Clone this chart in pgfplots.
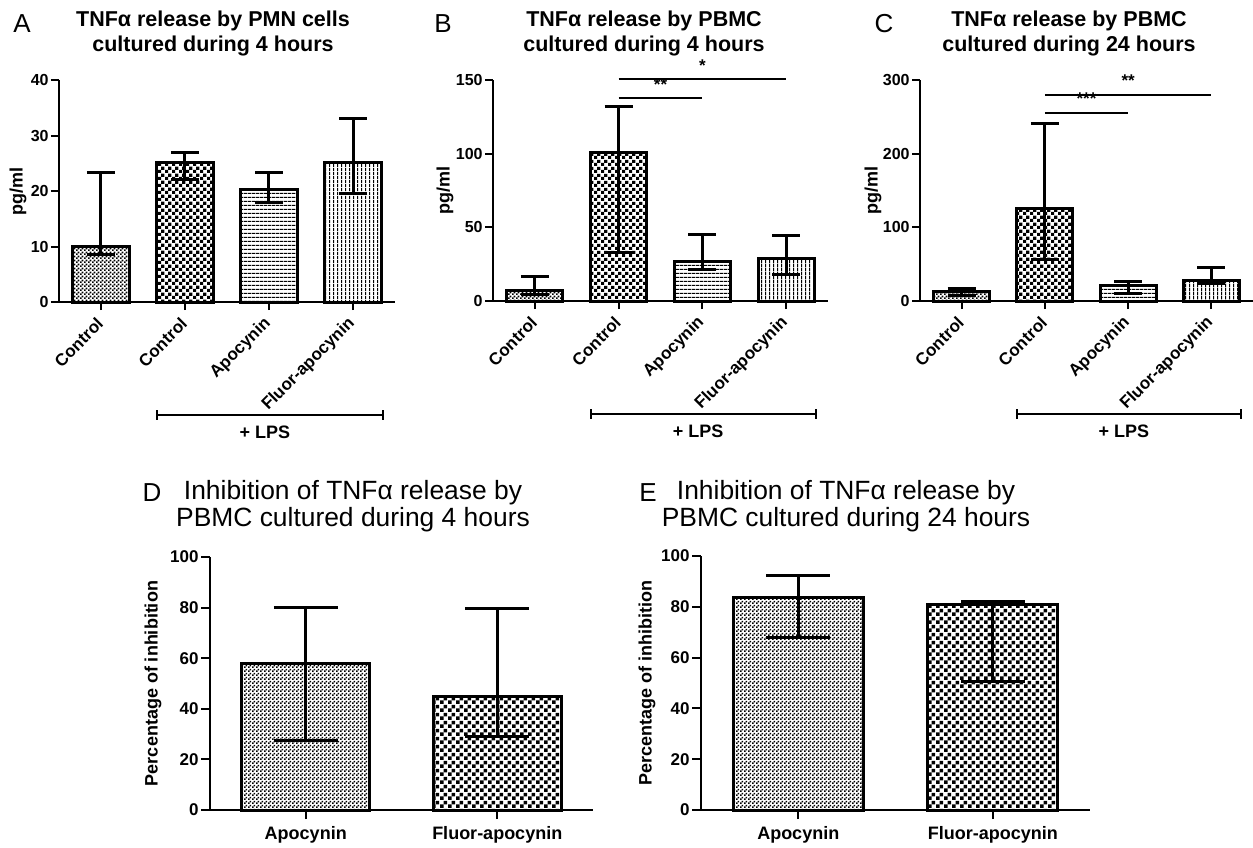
\documentclass[border=0pt]{standalone}
\usepackage{fontspec}
\setmainfont{Liberation Sans}
\usepackage{pgfplots}
\pgfplotsset{compat=1.18}
\usetikzlibrary{patterns.meta}

% bar fills
\tikzdeclarepattern{name=chkfine,type=uncolored,
  bounding box={(0pt,0pt) and (2pt,2pt)},tile size={(2pt,2pt)},
  code={\fill (0pt,0pt) rectangle (1pt,1pt); \fill (1pt,1pt) rectangle (2pt,2pt);}}
\tikzdeclarepattern{name=chkmid,type=uncolored,
  bounding box={(0pt,0pt) and (3.3pt,3.3pt)},tile size={(3.3pt,3.3pt)},
  code={\fill (0pt,0pt) rectangle (1.65pt,1.65pt); \fill (1.65pt,1.65pt) rectangle (3.3pt,3.3pt);}}
\tikzdeclarepattern{name=chkbig,type=uncolored,
  bounding box={(0pt,0pt) and (4pt,4pt)},tile size={(4pt,4pt)},
  code={\fill (0pt,0pt) rectangle (2pt,2pt); \fill (2pt,2pt) rectangle (4pt,4pt);}}
\tikzdeclarepattern{name=hlines,type=uncolored,
  bounding box={(0pt,0pt) and (2pt,2pt)},tile size={(2pt,2pt)},
  code={\fill (0pt,0.7pt) rectangle (2pt,1.3pt);}}
\tikzdeclarepattern{name=vlines,type=uncolored,
  bounding box={(0pt,0pt) and (2pt,2pt)},tile size={(2pt,2pt)},
  code={\fill (0.7pt,0pt) rectangle (1.3pt,2pt);}}

\pgfplotsset{
  panel/.style={
    scale only axis, anchor=south west,
    axis lines=left, axis line style={-, line width=1pt},
    enlargelimits=false, clip=false, ymin=0,
    tick align=outside, major tick length=4pt,
    major tick style={line width=1pt, black},
    yticklabel style={inner sep=1pt},
    /pgf/number format/assume math mode=true,
    ylabel style={font=\bfseries\fontsize{9}{10}\selectfont, anchor=center},
    ybar, bar shift=0pt,
    every axis plot/.append style={draw=black, line width=1.5pt, pattern color=black},
    error bars/y dir=both, error bars/y explicit,
    error bars/error bar style={line width=1.5pt, black},
  },
  top/.style={
    panel, xmin=-0.5, xmax=3.5, bar width=0.67, xtick={0,1,2,3},
    xticklabels={Control,Control,Apocynin,Fluor-apocynin},
    yticklabel style={font=\bfseries\fontsize{8}{9}\selectfont},
    xticklabel style={yshift=-3pt, xshift=2pt, rotate=45, anchor=east,
      font=\bfseries\fontsize{8.5}{9}\selectfont},
    ylabel={pg/ml},
    error bars/error mark options={rotate=90, line width=1.5pt, black, mark size=7pt},
  },
  bottom/.style={
    panel, xmin=-0.5, xmax=1.5, bar width=0.67, xtick={0,1},
    xticklabels={Apocynin,Fluor-apocynin},
    yticklabel style={font=\bfseries\fontsize{8.5}{9}\selectfont},
    xticklabel style={font=\bfseries\fontsize{9}{10}\selectfont},
    major tick length=4.5pt,
    ymax=100, ytick={0,20,...,100},
    ylabel={Percentage of inhibition},
    error bars/error mark options={rotate=90, line width=1.5pt, black, mark size=16pt},
  },
}

% "+ LPS" bracket under the last three bars
\newcommand\lps{%
  \draw[line width=1pt] ([yshift=-56.5pt]axis cs:0.67,0) -- ([yshift=-56.5pt]axis cs:3.36,0);
  \draw[line width=1pt] ([yshift=-54pt]axis cs:0.67,0) -- ([yshift=-59pt]axis cs:0.67,0);
  \draw[line width=1pt] ([yshift=-54pt]axis cs:3.36,0) -- ([yshift=-59pt]axis cs:3.36,0);
  \node[font=\bfseries\fontsize{9}{10}\selectfont] at ([yshift=-65pt]axis cs:1.95,0) {+ LPS};
}
\newcommand\sig[4]{% x from, x to, height, stars
  \draw[line width=1pt] (axis cs:#1,#3) -- (axis cs:#2,#3)
    node[midway, above=0.3pt, font=\bfseries\fontsize{8.5}{8.5}\selectfont] {#4};
}

\begin{document}
\begin{tikzpicture}
\useasboundingbox (0pt,0pt) rectangle (626.5pt,-423.5pt);

% panel titles
\tikzset{ttl/.style={font=\bfseries\fontsize{10.75}{12.5}\selectfont, align=center},
         ttlb/.style={font=\fontsize{13.2}{13.5}\selectfont, align=center},
         ltr/.style={font=\fontsize{13}{13}\selectfont}}
\node[ltr] at (11pt,-12pt) {A};
\node[ttl] at (106.5pt,-16.5pt) {TNFα release by PMN cells\\cultured during 4 hours};
\node[ltr] at (221.5pt,-12pt) {B};
\node[ttl] at (322pt,-16.5pt) {TNFα release by PBMC\\cultured during 4 hours};
\node[ltr] at (442pt,-12pt) {C};
\node[ttl] at (534.5pt,-16.5pt) {TNFα release by PBMC\\cultured during 24 hours};
\node[ltr] at (76pt,-246.5pt) {D};
\node[ttlb] at (176.5pt,-253pt) {Inhibition of TNFα release by\\PBMC cultured during 4 hours};
\node[ltr] at (324pt,-246.5pt) {E};
\node[ttlb] at (423pt,-253pt) {Inhibition of TNFα release by\\PBMC cultured during 24 hours};

% A
\begin{axis}[top, at={(29.5pt,-151pt)}, width=168pt, height=111pt,
  ymax=40, ytick={0,10,...,40},
  ylabel style={at={(axis description cs:-0.122,0.5)}}]
\addplot[pattern=chkfine] coordinates {(0,10) += (0,13.3) -= (0,1.5)};
\addplot[pattern=chkmid] coordinates {(1,25.1) += (0,1.9) -= (0,3.0)};
\addplot[pattern=hlines] coordinates {(2,20.3) += (0,3.0) -= (0,2.3)};
\addplot[pattern=vlines] coordinates {(3,25.1) += (0,7.9) -= (0,5.5)};
\lps
\end{axis}

% B
\begin{axis}[top, at={(246.5pt,-150.5pt)}, width=167.5pt, height=110.5pt,
  ymax=150, ytick={0,50,100,150},
  ylabel style={at={(axis description cs:-0.143,0.5)}}]
\addplot[pattern=chkfine] coordinates {(0,7.2) += (0,9.1) -= (0,3.0)};
\addplot[pattern=chkmid] coordinates {(1,101) += (0,31) -= (0,68)};
\addplot[pattern=hlines] coordinates {(2,26.7) += (0,18.3) -= (0,5.2)};
\addplot[pattern=vlines] coordinates {(3,29) += (0,15.6) -= (0,10.7)};
\sig{1}{2}{137.5}{**}
\sig{1}{3}{150.4}{*}
\lps
\end{axis}

% C
\begin{axis}[top, at={(460pt,-150.5pt)}, width=166.5pt, height=110.5pt,
  ymax=300, ytick={0,100,200,300},
  ylabel style={at={(axis description cs:-0.141,0.5)}}]
\addplot[pattern=chkfine] coordinates {(0,13) += (0,4) -= (0,5)};
\addplot[pattern=chkmid] coordinates {(1,125) += (0,116) -= (0,69)};
\addplot[pattern=hlines] coordinates {(2,21.5) += (0,5) -= (0,11)};
\addplot[pattern=vlines] coordinates {(3,28) += (0,17.5) -= (0,4)};
\sig{1}{2}{255}{***}
\sig{1}{3}{280}{**}
\lps
\end{axis}

% D
\begin{axis}[bottom, at={(105pt,-405pt)}, width=191.5pt, height=126.5pt,
  ylabel style={at={(axis description cs:-0.149,0.5)}}]
\addplot[pattern=chkfine] coordinates {(0,58) += (0,22) -= (0,30.6)};
\addplot[pattern=chkbig] coordinates {(1,44.7) += (0,34.8) -= (0,15.8)};
\end{axis}

% E
\begin{axis}[bottom, at={(350.5pt,-405pt)}, width=194.5pt, height=127pt,
  ylabel style={at={(axis description cs:-0.139,0.5)}}]
\addplot[pattern=chkfine] coordinates {(0,83.5) += (0,8.9) -= (0,15.7)};
\addplot[pattern=chkbig] coordinates {(1,80.9) += (0,1) -= (0,30.4)};
\end{axis}
\end{tikzpicture}
\end{document}
